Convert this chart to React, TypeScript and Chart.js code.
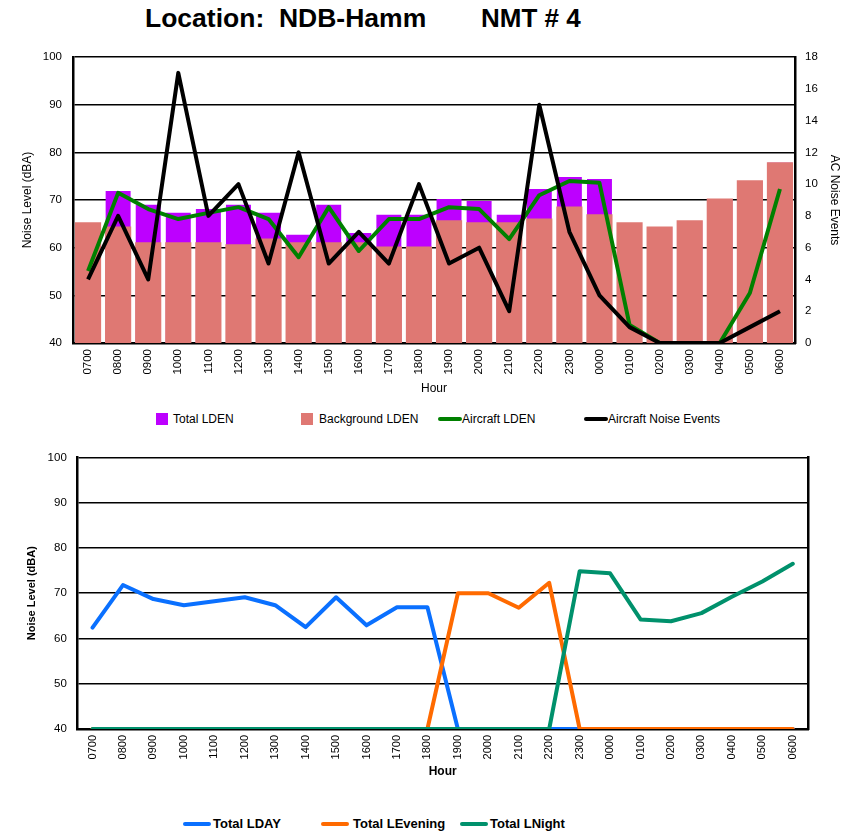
import React, { useEffect, useRef } from 'react';
import { Chart, registerables } from 'chart.js';

Chart.register(...registerables);

const FONT = "'Liberation Sans', Arial, Helvetica, sans-serif";

// ---- data ----
const hours = ['0700', '0800', '0900', '1000', '1100', '1200', '1300', '1400', '1500', '1600', '1700', '1800',
  '1900', '2000', '2100', '2200', '2300', '0000', '0100', '0200', '0300', '0400', '0500', '0600'];

const totalLden = [65.2, 71.9, 69.0, 67.3, 68.1, 69.0, 67.3, 62.7, 69.0, 63.1, 66.9, 66.9,
  70.2, 69.8, 66.9, 72.3, 74.8, 74.4, 65.2, 64.3, 65.6, 70.2, 74.0, 77.8];
const backgroundLden = [65.2, 64.3, 61.0, 61.0, 61.0, 60.6, 61.8, 61.0, 61.0, 61.0, 60.1, 60.1,
  65.6, 65.2, 65.2, 66.0, 68.5, 66.9, 65.2, 64.3, 65.6, 70.2, 74.0, 77.8];
const aircraftLden = [55.1, 71.5, 68.1, 66.0, 67.3, 68.5, 66.0, 58.0, 68.5, 59.3, 66.0, 66.0,
  68.5, 68.1, 61.8, 71.0, 74.0, 73.6, 43.8, 40, 40, 40, 50.5, 72.3];
const noiseEvents = [4, 8, 4, 17, 8, 10, 5, 12, 5, 7, 5, 10, 5, 6, 2, 15, 7, 3, 1, 0, 0, 0, 1, 2];

const totalLday = [62.4, 71.8, 68.7, 67.35, 68.2, 69.1, 67.35, 62.5, 69.1, 62.9, 66.9, 66.9,
  40, 40, 40, 40, 40, 40, 40, 40, 40, 40, 40, 40];
const totalLevening = [40, 40, 40, 40, 40, 40, 40, 40, 40, 40, 40, 40,
  70.0, 70.0, 66.8, 72.3, 40, 40, 40, 40, 40, 40, 40, 40];
const totalLnight = [40, 40, 40, 40, 40, 40, 40, 40, 40, 40, 40, 40,
  40, 40, 40, 40, 74.85, 74.4, 64.2, 63.8, 65.6, 69.2, 72.6, 76.5];

const topLegend = ['Total LDEN', 'Background LDEN', 'Aircraft LDEN', 'Aircraft Noise Events'];
const bottomLegend = ['Total LDAY', 'Total LEvening', 'Total LNight'];

const C_TOTAL = '#BD00FF';
const C_BG = '#DF7873';
const C_AC = '#008000';
const C_EV = '#000000';
const C_DAY = '#0A70FF';
const C_EVE = '#FF6A00';
const C_NIGHT = '#00916C';

export default function App() {
  const topRef = useRef<HTMLCanvasElement>(null);
  const botRef = useRef<HTMLCanvasElement>(null);

  useEffect(() => {
    Chart.defaults.font.family = FONT;
    Chart.defaults.color = '#000';

    const c1 = new Chart(topRef.current as HTMLCanvasElement, {
      type: 'bar',
      data: {
        labels: hours,
        datasets: [
          { type: 'bar', label: topLegend[0], data: totalLden, backgroundColor: C_TOTAL, grouped: false,
            barPercentage: 0.83, categoryPercentage: 1, order: 3, yAxisID: 'y', inflateAmount: 0 } as any,
          { type: 'bar', label: topLegend[1], data: backgroundLden, backgroundColor: C_BG, grouped: false,
            barPercentage: 0.83, categoryPercentage: 1, order: 2, yAxisID: 'y', inflateAmount: 0.6 } as any,
          { type: 'line', label: topLegend[2], data: aircraftLden, borderColor: C_AC, backgroundColor: C_AC,
            borderWidth: 4, pointRadius: 0, tension: 0, order: 1, yAxisID: 'y', borderJoinStyle: 'round' } as any,
          { type: 'line', label: topLegend[3], data: noiseEvents, borderColor: C_EV, backgroundColor: C_EV,
            borderWidth: 4, pointRadius: 0, tension: 0, order: 0, yAxisID: 'y1', borderJoinStyle: 'round' } as any,
        ],
      },
      options: {
        responsive: false,
        animation: false,
        layout: { padding: { top: 57, left: 20, right: 16, bottom: 0 } },
        plugins: { legend: { display: false }, tooltip: { enabled: false } },
        scales: {
          x: {
            grid: { display: false, drawTicks: false },
            border: { color: '#000', width: 2.5 },
            ticks: { autoSkip: false, minRotation: 90, maxRotation: 90, padding: 6, font: { size: 11.5 }, color: '#000' },
            title: { display: true, text: 'Hour', padding: 0, font: { size: 12 }, color: '#000' },
            afterFit: (s: any) => { s.height = 396 - 343; },
          },
          y: {
            position: 'left',
            min: 40, max: 100,
            ticks: { stepSize: 10, padding: 11, font: { size: 11.5 }, color: '#000' },
            grid: { color: '#000', lineWidth: 1.5, drawTicks: false },
            border: { color: '#000', width: 2.5 },
            title: { display: true, text: 'Noise Level (dBA)', padding: 0, font: { size: 12 }, color: '#000' },
            afterFit: (s: any) => { s.width = 53; },
          },
          y1: {
            position: 'right',
            min: 0, max: 18,
            ticks: { stepSize: 2, padding: 10, font: { size: 11.5 }, color: '#000' },
            grid: { drawOnChartArea: false, drawTicks: false },
            border: { color: '#000', width: 2.5 },
            title: { display: true, text: 'AC Noise Events', padding: 0, font: { size: 12 }, color: '#000' },
            afterFit: (s: any) => { s.width = 47; },
          },
        },
      } as any,
    });

    const c2 = new Chart(botRef.current as HTMLCanvasElement, {
      type: 'line',
      data: {
        labels: hours,
        datasets: [
          { label: bottomLegend[0], data: totalLday, borderColor: C_DAY, backgroundColor: C_DAY, borderWidth: 4,
            pointRadius: 0, tension: 0, order: 2, borderJoinStyle: 'round', borderCapStyle: 'round' } as any,
          { label: bottomLegend[1], data: totalLevening, borderColor: C_EVE, backgroundColor: C_EVE, borderWidth: 4,
            pointRadius: 0, tension: 0, order: 1, borderJoinStyle: 'round', borderCapStyle: 'round' } as any,
          { label: bottomLegend[2], data: totalLnight, borderColor: C_NIGHT, backgroundColor: C_NIGHT, borderWidth: 4,
            pointRadius: 0, tension: 0, order: 0, borderJoinStyle: 'round', borderCapStyle: 'round' } as any,
        ],
      },
      options: {
        responsive: false,
        animation: false,
        layout: { padding: { top: 17, left: 25, right: 50, bottom: 0 } },
        plugins: { legend: { display: false }, tooltip: { enabled: false } },
        scales: {
          x: {
            offset: true,
            grid: { display: false, drawTicks: false, offset: true },
            border: { color: '#000', width: 2.5 },
            ticks: { autoSkip: false, minRotation: 90, maxRotation: 90, padding: 6, font: { size: 11 }, color: '#000' },
            title: { display: true, text: 'Hour', padding: 0, font: { size: 12, weight: 'bold' }, color: '#000' },
            afterFit: (s: any) => { s.height = 50; },
          },
          y: {
            position: 'left',
            min: 40, max: 100,
            ticks: { stepSize: 10, padding: 10.5, font: { size: 11.5 }, color: '#000' },
            grid: { color: '#000', lineWidth: 1.5, drawTicks: false },
            border: { color: '#000', width: 2.5 },
            title: { display: true, text: 'Noise Level (dBA)', padding: 0, font: { size: 11, weight: 'bold' }, color: '#000' },
            afterFit: (s: any) => { s.width = 52.3; },
          },
          y2: {
            position: 'right',
            min: 40, max: 100,
            ticks: { display: false },
            grid: { drawOnChartArea: false, drawTicks: false },
            border: { color: '#000', width: 2.5 },
            afterFit: (s: any) => { s.width = 0; },
          },
        },
      } as any,
    });

    return () => { c1.destroy(); c2.destroy(); };
  }, []);

  const txt = (extra: React.CSSProperties): React.CSSProperties => ({
    position: 'absolute', fontFamily: FONT, color: '#000', whiteSpace: 'pre', ...extra,
  });

  return (
    <div style={{ position: 'fixed', left: 0, top: 0, width: 858, height: 833, background: '#fff', overflow: 'hidden' }}>
      <div style={txt({ left: 145, top: 3, fontSize: 26.5, fontWeight: 'bold', lineHeight: '30px' })}>Location:  NDB-Hamm</div>
      <div style={txt({ left: 481, top: 3, fontSize: 26, fontWeight: 'bold', lineHeight: '30px' })}>NMT # 4</div>

      <canvas ref={topRef} width={858} height={396} style={{ position: 'absolute', left: 0, top: 0, display: 'block' }} />

      {/* top legend */}
      <div style={{ position: 'absolute', left: 156, top: 413, width: 12, height: 12, background: C_TOTAL }} />
      <div style={txt({ left: 173, top: 412, fontSize: 12, lineHeight: '14px' })}>{topLegend[0]}</div>
      <div style={{ position: 'absolute', left: 301, top: 413, width: 12, height: 12, background: C_BG }} />
      <div style={txt({ left: 319, top: 412, fontSize: 12, lineHeight: '14px' })}>{topLegend[1]}</div>
      <div style={{ position: 'absolute', left: 438, top: 417, width: 24, height: 4, borderRadius: 2, background: C_AC }} />
      <div style={txt({ left: 462, top: 412, fontSize: 12, lineHeight: '14px' })}>{topLegend[2]}</div>
      <div style={{ position: 'absolute', left: 584, top: 417, width: 24, height: 4, borderRadius: 2, background: C_EV }} />
      <div style={txt({ left: 608, top: 412, fontSize: 12, lineHeight: '14px' })}>{topLegend[3]}</div>

      <canvas ref={botRef} width={858} height={339} style={{ position: 'absolute', left: 0, top: 440, display: 'block' }} />

      {/* bottom legend */}
      <div style={{ position: 'absolute', left: 183, top: 822, width: 28, height: 4, borderRadius: 2, background: C_DAY }} />
      <div style={txt({ left: 213, top: 816, fontSize: 13, fontWeight: 'bold', lineHeight: '16px' })}>{bottomLegend[0]}</div>
      <div style={{ position: 'absolute', left: 321, top: 822, width: 28, height: 4, borderRadius: 2, background: C_EVE }} />
      <div style={txt({ left: 353, top: 816, fontSize: 13, fontWeight: 'bold', lineHeight: '16px' })}>{bottomLegend[1]}</div>
      <div style={{ position: 'absolute', left: 460, top: 822, width: 28, height: 4, borderRadius: 2, background: C_NIGHT }} />
      <div style={txt({ left: 490, top: 816, fontSize: 13, fontWeight: 'bold', lineHeight: '16px' })}>{bottomLegend[2]}</div>
    </div>
  );
}
